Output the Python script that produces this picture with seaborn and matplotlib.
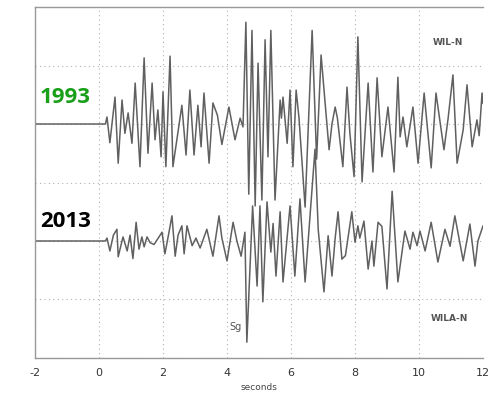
import matplotlib
matplotlib.use("Agg")
import matplotlib.pyplot as plt
import seaborn as sns
import pandas as pd

# ---- data (time in s, amplitude in grid units) ----
t1993 = [-2, 0.2, 0.25, 0.34, 0.5, 0.6, 0.72, 0.81, 0.91, 1.03,
         1.13, 1.28, 1.41, 1.53, 1.66, 1.75, 1.84, 1.94, 2.0, 2.09,
         2.22, 2.31, 2.59, 2.72, 2.84, 2.97, 3.09, 3.19, 3.28, 3.44,
         3.56, 3.7, 3.84, 4.06, 4.25, 4.41, 4.5, 4.59, 4.68, 4.78,
         4.88, 4.97, 5.09, 5.19, 5.28, 5.37, 5.5, 5.66, 5.7, 5.75,
         5.88, 5.97, 6.06, 6.16, 6.25, 6.44, 6.66, 6.8, 6.94, 7.05,
         7.19, 7.28, 7.38, 7.45, 7.62, 7.75, 7.84, 7.97, 8.09, 8.22,
         8.41, 8.56, 8.69, 8.84, 9.03, 9.22, 9.34, 9.41, 9.5, 9.62,
         9.81, 9.97, 10.16, 10.38, 10.53, 10.78, 10.91, 11.06, 11.19, 11.38,
         11.5, 11.66, 11.81, 11.88, 11.97, 12.0]
a1993 = [0, 0, 0.12, -0.32, 0.46, -0.67, 0.41, -0.16, 0.19, -0.33,
         0.7, -0.73, 1.13, -0.5, 0.7, -0.27, 0.24, -0.56, 0.55, -0.73,
         1.16, -0.73, 0.32, -0.53, 0.58, -0.53, 0.32, -0.39, 0.53, -0.67,
         0.36, 0.15, -0.35, 0.29, -0.27, 0.1, -0.05, 1.74, -1.2, 1.6,
         -1.4, 1.04, -1.3, 1.44, -0.56, 1.6, -1.3, 0.41, 0.1, 0.46,
         -0.33, 0.58, -0.73, 0.58, 0.1, -1.42, 1.6, -0.6, 1.18, 0.46,
         -0.44, 0.0, 0.29, 0.1, -0.73, 0.63, -0.16, -0.9, 1.49, -0.99,
         0.7, -0.82, 0.79, -0.56, 0.29, -0.82, 0.8, -0.22, 0.12, -0.39,
         0.29, -0.67, 0.53, -0.75, 0.53, -0.44, 0.1, 0.84, -0.67, -0.1,
         0.67, -0.39, 0.07, -0.2, 0.53, 0.35]

t2013 = [-2, 0.2, 0.25, 0.34, 0.45, 0.56, 0.6, 0.75, 0.88, 0.97,
         1.06, 1.16, 1.25, 1.34, 1.41, 1.5, 1.6, 1.72, 1.97, 2.06,
         2.16, 2.28, 2.38, 2.47, 2.59, 2.66, 2.75, 2.91, 3.03, 3.16,
         3.37, 3.56, 3.75, 3.84, 4.0, 4.19, 4.31, 4.44, 4.56, 4.62,
         4.8, 4.94, 5.03, 5.12, 5.25, 5.37, 5.44, 5.53, 5.66, 5.75,
         5.97, 6.12, 6.28, 6.44, 6.75, 6.85, 7.03, 7.16, 7.28, 7.38,
         7.47, 7.59, 7.7, 7.9, 8.0, 8.09, 8.15, 8.28, 8.41, 8.53,
         8.59, 8.72, 8.84, 9.0, 9.16, 9.34, 9.56, 9.72, 9.81, 9.94,
         10.03, 10.19, 10.38, 10.59, 10.81, 10.97, 11.12, 11.38, 11.59, 11.75,
         11.84, 12.0]
a2013 = [0, 0, 0.05, -0.17, 0.1, 0.2, -0.27, 0.07, -0.17, 0.1,
         -0.3, 0.32, -0.14, 0.07, -0.1, 0.07, -0.03, -0.06, 0.15, -0.22,
         0.07, 0.43, -0.26, 0.1, 0.26, -0.22, 0.26, -0.08, 0.05, -0.12,
         0.2, -0.26, 0.43, 0.05, -0.34, 0.32, 0.0, -0.26, 0.15, -1.73,
         0.6, -0.77, 0.6, -1.04, 0.67, -0.19, 0.3, -0.6, 0.5, -0.7,
         0.6, -0.6, 0.72, -0.7, 1.57, 0.2, -0.87, 0.09, -0.6, 0.05,
         0.5, -0.31, -0.25, 0.5, -0.02, 0.26, 0.05, 0.34, -0.48, 0.0,
         -0.43, 0.32, 0.25, -0.82, 0.85, -0.7, 0.17, -0.14, 0.15, -0.08,
         0.17, -0.17, 0.32, -0.36, 0.2, -0.09, 0.43, -0.34, 0.29, -0.43,
         0.0, 0.26]

year_labels = ["1993", "2013"]
station_labels = ["WIL-N", "WILA-N"]
phase_label = "Sg"
x_ticks = [-2, 0, 2, 4, 6, 8, 10, 12]
x_label = "seconds"

# ---- layout ----
offset_1993 = 4
offset_2013 = 2

df = pd.concat([
    pd.DataFrame({"t": t1993, "v": [a + offset_1993 for a in a1993], "rec": "1993"}),
    pd.DataFrame({"t": t2013, "v": [a + offset_2013 for a in a2013], "rec": "2013"}),
])

sns.set_theme(style="white")
fig = plt.figure(figsize=(4.95, 3.94), dpi=100)
ax = fig.add_axes([0.0707, 0.0914, 0.9051, 0.8908])

sns.lineplot(data=df, x="t", y="v", units="rec", estimator=None, sort=False,
             color="#606060", linewidth=1.1, ax=ax, legend=False)

ax.set_xlim(-2, 12)
ax.set_ylim(0, 6)
ax.set_xticks(x_ticks)
ax.set_xticklabels([str(x) for x in x_ticks])
ax.set_yticks(range(0, 7))
ax.set_yticklabels([])
ax.grid(True, linestyle=(0, (1, 3)), color="#b0b0b0", linewidth=0.8)
ax.tick_params(axis="both", direction="in", length=3, color="#888888",
               labelsize=8, labelcolor="#333333", pad=7)
for side in ["left", "bottom", "top"]:
    ax.spines[side].set_color("#999999")
    ax.spines[side].set_linewidth(1.0)
ax.spines["right"].set_visible(False)

ax.set_xlabel(x_label, fontsize=6.5, color="#444444", labelpad=4)
ax.set_ylabel("")

ax.text(-1.85, 4.46, year_labels[0], color="#1a9f1a", fontsize=16,
        fontweight="bold", family="Open Sans", va="center", ha="left")
ax.text(-1.85, 2.33, year_labels[1], color="black", fontsize=16,
        fontweight="bold", family="Open Sans", va="center", ha="left")
ax.text(10.9, 5.40, station_labels[0], color="#555555", fontsize=6.5,
        fontweight="bold", ha="center", va="center")
ax.text(10.95, 0.68, station_labels[1], color="#555555", fontsize=6.5,
        fontweight="bold", ha="center", va="center")
ax.text(4.25, 0.53, phase_label, color="#555555", fontsize=7,
        ha="center", va="center")

fig.savefig("out.png", dpi=100)
